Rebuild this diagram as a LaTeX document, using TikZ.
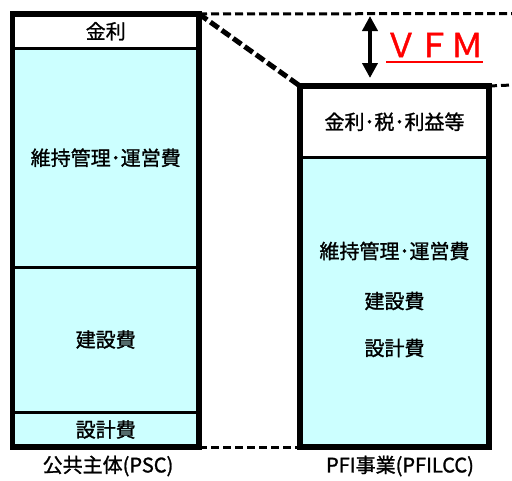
\documentclass[tikz,border=0pt]{standalone}
\usepackage{fontspec}
\setmainfont{Noto Sans CJK JP}[FakeBold=1.2]
\usetikzlibrary{arrows.meta,positioning}
\definecolor{costCyan}{HTML}{CCFFFF}
\definecolor{vfmRed}{HTML}{FF0000}

\begin{document}
\begin{tikzpicture}[x=1pt,y=-1pt,
    cell/.style={draw=black,line width=3pt,inner sep=0pt,outer sep=0pt,font=\fontsize{20}{21}\selectfont},
    frame/.style={line width=5.5pt},
    guide/.style={line width=3pt,dash pattern=on 8pt off 4pt},
    slant/.style={line width=5pt,dash pattern=on 10pt off 4pt},
    every node/.style={font=\fontsize{20}{21}\selectfont}]

      \useasboundingbox (0,0) rectangle (512,480);

      \def\pscX{105.75}
      \def\pfiX{394.5}

      % draw the PSC column
      \foreach \nm/\yc/\h/\fc/\txt in {
        pscint/31.25/34.5/white/{金利},
        pscopr/157.75/218.5/costCyan/{維持管理･運営費},
        psccon/339.5/145/costCyan/{建設費},
        pscdes/429.5/35/costCyan/{設計費}}
      \node[cell,fill=\fc,minimum width=186.5pt,minimum height=\h pt] (\nm) at (\pscX,\yc) {\txt};
      \draw[frame] (pscint.north west) rectangle (pscdes.south east);

      % draw the PFI column
      \node[cell,fill=white,minimum width=189pt,minimum height=71.5pt] (pfiint) at (\pfiX,121.75) {金利･税･利益等};
      \node[cell,fill=costCyan,minimum width=189pt,minimum height=289.5pt] (pficost) at (\pfiX,302.25) {};
      \foreach \nm/\yc/\txt in {pfiopr/251/{維持管理･運営費},pficon/301/{建設費},pfides/348/{設計費}}
      \node (\nm) at (\pfiX,\yc) {\txt};
      \draw[frame] (pfiint.north west) rectangle (pficost.south east);

      % draw the dashed guides
      \coordinate (topend) at (512,13.5);
      \coordinate (rightend) at (512,85);
      \draw[guide] (pscint.north east) -- (topend);
      \draw[guide] (pfiint.north east) -- (rightend);
      \draw[guide] (pscdes.south east) -- (pficost.south west);
      \draw[slant] (pscint.north east) -- (pfiint.north west);

      % the VFM gap
      \coordinate (vfmtop) at (370,16);
      \coordinate (vfmbot) at (370,78);
      \draw[{Triangle[width=15pt,length=15pt]}-{Triangle[width=15pt,length=15pt]},line width=4pt] (vfmtop) -- (vfmbot);
      \node[text=vfmRed,font=\fontsize{33}{35}\selectfont] (vfm) at (434,45) {ＶＦＭ};
      \coordinate (ulstart) at (386,62);
      \coordinate (ulend) at (483,62);
      \draw[vfmRed,line width=2.5pt] (ulstart) -- (ulend);

      % column labels
      \node (psclabel) at (108,466) {公共主体(PSC)};
      \node (pfilabel) at (400,466) {PFI事業(PFILCC)};

\end{tikzpicture}
\end{document}
